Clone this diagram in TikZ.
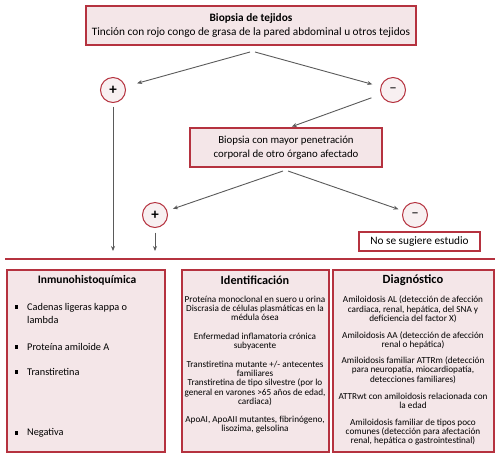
\documentclass[tikz,border=0pt]{standalone}
\usepackage{fontspec}
\setmainfont{Carlito}
\usetikzlibrary{arrows.meta}
\definecolor{bred}{HTML}{B5323F}
\definecolor{bfill}{HTML}{F4E6E8}
\definecolor{agray}{HTML}{5A5A5A}
\tikzset{
  box/.style={draw=bred, line width=1.1pt, fill=bfill, inner sep=0pt},
  sbox/.style={draw=bred, line width=1.1pt, fill=white, inner sep=0pt},
  sign/.style={circle, draw=bred, line width=1pt, fill=bfill!60, minimum size=25pt, inner sep=0pt, font=\fontsize{15}{15}\selectfont\bfseries},
  arr/.style={draw=agray, line width=0.9pt, -{Stealth[length=5pt,width=4pt]}},
  txt/.style={align=center, inner sep=0pt},
  small/.style={txt, anchor=north, font=\fontsize{9.2}{9.3}\selectfont},
  bul/.style={fill=black, minimum size=3.2pt, inner sep=0pt},
  btxt/.style={anchor=west, align=left, inner sep=0pt, font=\fontsize{10.3}{13}\selectfont},
}
\begin{document}
\begin{tikzpicture}[x=1pt,y=-1pt]
\useasboundingbox (0,0) rectangle (500,459);
% top box
\node[box, minimum width=330pt, minimum height=39pt] (top) at (251,25.5) {};
\node[txt, font=\fontsize{11.3}{14}\selectfont] (toptxt) at (top.center) {\textbf{Biopsia de tejidos}\\Tinción con rojo congo de grasa de la pared abdominal u otros tejidos};
\node[sign] (p1) at (113,90) {+};
\node[sign] (m1) at (393,90) {\mdseries\raisebox{0.5pt}{–}};
\coordinate (t1) at (250,52);
\coordinate (t2) at (255,52);
\draw[arr, shorten >=12pt] (t1) -- (p1);
\draw[arr, shorten >=8.5pt] (t2) -- (m1);
% second box
\node[box, minimum width=192pt, minimum height=39pt] (mid) at (286,147.5) {};
\node[txt, font=\fontsize{10.8}{14}\selectfont] (midtxt) at (mid.center) {Biopsia con mayor penetración\\corporal de otro órgano afectado};
\coordinate (mtop) at (288,128);
\draw[arr, shorten <=10pt, shorten >=4pt] (m1) -- (mtop);
\node[sign] (p2) at (155,215) {+};
\node[sign] (m2) at (415,215) {\mdseries\raisebox{0.5pt}{–}};
\coordinate (s1) at (283,171);
\coordinate (s2) at (288,171);
\draw[arr, shorten >=6pt] (s1) -- (p2);
\draw[arr, shorten >=4.5pt] (s2) -- (m2);
\node[sbox, minimum width=121pt, minimum height=19pt, font=\fontsize{11.3}{12}\selectfont] (nose) at (419.5,241.5) {No se sugiere estudio};
\coordinate (e1) at (113,251);
\coordinate (e2) at (155,251);
\draw[arr, shorten <=3.5pt] (p1) -- (e1);
\draw[arr, shorten <=4.5pt] (p2) -- (e2);
% separator
\coordinate (l1) at (5,259);
\coordinate (l2) at (495,259);
\draw[bred, line width=1.1pt] (l1) -- (l2);
% bottom boxes
\node[box, minimum width=158pt, minimum height=182pt] (b1) at (86,361) {};
\node[box, minimum width=147pt, minimum height=182pt] (b2) at (255.5,361) {};
\node[box, minimum width=161pt, minimum height=182pt] (b3) at (413.5,361) {};
% box1 contents
\node[txt, font=\fontsize{11.5}{12}\selectfont\bfseries] (h1) at (87,280) {Inmunohistoquímica};
\node[bul] (u1) at (16.5,307) {};
\node[btxt] (i1) at (27,313.5) {Cadenas ligeras kappa o\\lambda};
\node[bul] (u2) at (16.5,347) {};
\node[btxt] (i2) at (27,347) {Proteína amiloide A};
\node[bul] (u3) at (16.5,372) {};
\node[btxt] (i3) at (27,372) {Transtiretina};
\node[bul] (u4) at (16.5,433) {};
\node[btxt] (i4) at (27,433) {Negativa};
% box2 contents
\node[txt, font=\fontsize{12.2}{12}\selectfont\bfseries] (h2) at (255,280) {Identificación};
\node[small] (d1) at (255,295.5) {Proteína monoclonal en suero u orina\\Discrasia de células plasmáticas en la\\médula ósea};
\node[small] (d2) at (255,332.5) {Enfermedad inflamatoria crónica\\subyacente};
\node[small] (d3) at (255,360.5) {Transtiretina mutante +/- antecentes\\familiares\\Transtiretina de tipo silvestre (por lo\\general en varones >65 años de edad,\\cardiaca)};
\node[small] (d4) at (255,415.5) {ApoAI, ApoAII mutantes, fibrinógeno,\\lisozima, gelsolina};
% box3 contents
\node[txt, font=\fontsize{12.5}{12}\selectfont\bfseries] (h3) at (413,280) {Diagnóstico};
\node[small] (g1) at (413,296) {Amiloidosis AL (detección de afección\\cardiaca, renal, hepática, del SNA y\\deficiencia del factor X)};
\node[small] (g2) at (413,331.5) {Amiloidosis AA (detección de afección\\renal o hepática)};
\node[small] (g3) at (413,356.5) {Amiloidosis familiar ATTRm (detección\\para neuropatía, miocardiopatía,\\detecciones familiares)};
\node[small] (g4) at (413,392.5) {ATTRwt con amiloidosis relacionada con\\la edad};
\node[small] (g5) at (413,418.5) {Amiloidosis familiar de tipos poco\\comunes (detección para afectación\\renal, hepática o gastrointestinal)};
\end{tikzpicture}
\end{document}
